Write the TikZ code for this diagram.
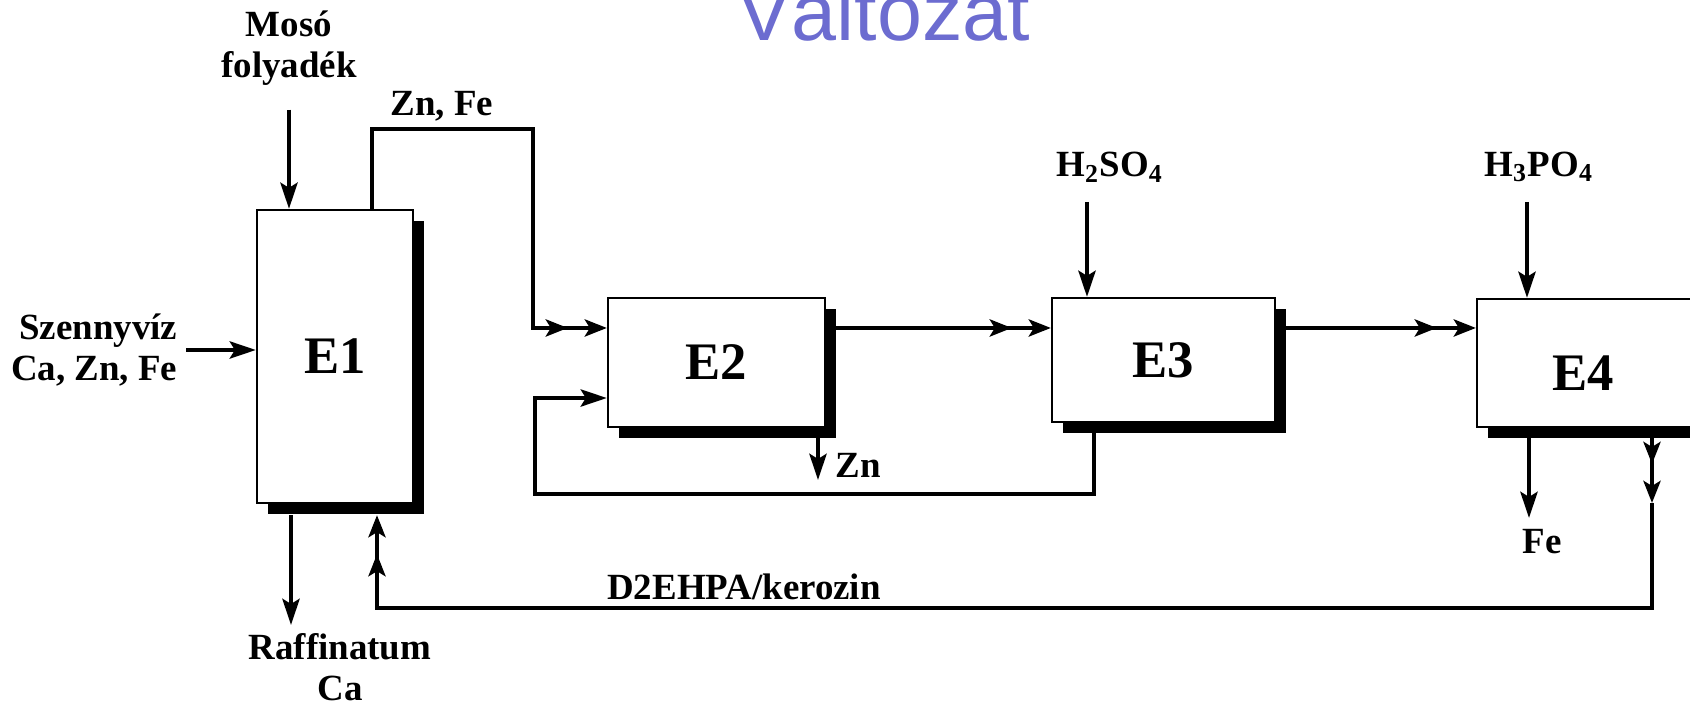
\documentclass[tikz,border=0pt]{standalone}
\usepackage{fontspec}
\setmainfont{Liberation Serif}
\setsansfont{Liberation Sans}
\usetikzlibrary{arrows.meta,shadows}
\definecolor{variantBlue}{RGB}{108,108,208}

\begin{document}
\begin{tikzpicture}[x=.01cm,y=-.01cm,
      extractor/.style={draw, fill=white, line width=.6pt, rectangle,
        inner sep=0pt, font=\fontsize{15}{17}\selectfont\bfseries,
        general shadow={fill=black, shadow xshift=.11cm, shadow yshift=-.11cm}},
      tag/.style={font=\fontsize{10.5}{11.5}\selectfont\bfseries,
        inner sep=0pt, align=center},
      pipe/.style={line width=1.3pt, line join=miter},
      stream/.style={pipe, -{Stealth[length=.26cm,width=.17cm,inset=.05cm]}},
      twotip/.style={pipe, -{Stealth[length=.22cm,width=.17cm,inset=.05cm,
        sep=.17cm]Stealth[length=.22cm,width=.17cm,inset=.05cm]}}]
      \useasboundingbox (0,0) rectangle (1690,707);
      \clip (0,0) rectangle (1690,707);

      \node[font=\fontsize{23}{23}\selectfont\sffamily, text=variantBlue,
        anchor=base] (title) at (884,41) {Változat};

      % extractors
      \node[extractor, minimum width=1.56cm, minimum height=2.93cm]
        (e1) at (335,356.5) {E1};
      \node[extractor, minimum width=2.17cm, minimum height=1.29cm]
        (e2) at (716.5,362.5) {E2};
      \node[extractor, minimum width=2.23cm, minimum height=1.24cm]
        (e3) at (1163.5,360) {E3};
      \node[extractor, minimum width=2.18cm, minimum height=1.28cm]
        (e4) at (1586,363) {};
      \node[font=\fontsize{15}{17}\selectfont\bfseries] (e4name)
        at (1583,373) {E4};

      % labels
      \node[tag] (moso) at (289,48) {Mosó\\folyadék};
      \node[tag, align=right, anchor=east] (szenny) at (178,350)
        {Szennyvíz\\Ca, Zn, Fe};
      \node[tag] (znfe) at (442,106) {Zn, Fe};
      \node[tag] (raff) at (340,667) {Raffinatum\\Ca};
      \node[tag] (solvent) at (744,587) {D2EHPA/kerozin};
      \node[tag, anchor=west] (zn) at (835,465) {Zn};
      \node[tag] (h2so4) at (1110,167) {H\textsubscript{2}SO\textsubscript{4}};
      \node[tag] (h3po4) at (1539,167) {H\textsubscript{3}PO\textsubscript{4}};
      \node[tag] (fe) at (1542,542) {Fe};

      % helper points
      \coordinate (e1base) at ([yshift=-.11cm]e1.south);
      \coordinate (e2feed) at ([yshift=.345cm]e2.west);
      \coordinate (e2recycle) at ([yshift=-.355cm]e2.west);
      \coordinate (znfeRise) at (372,129);
      \coordinate (znfeDrop) at (533,129);
      \coordinate (loopLow) at (535,494);
      \coordinate (znOut) at (818,480);
      \coordinate (acidA) at (1087,202);
      \coordinate (acidB) at (1527,202);
      \coordinate (feOut) at (1529,518);
      \coordinate (solvMark) at (1652,503);
      \coordinate (solvDown) at (1652,608);
      \coordinate (solvUp) at (377,608);
      \coordinate (raffOut) at (291,625);

      % streams
      \draw[stream] ([yshift=-.24cm]moso.south) -- (moso.south |- e1.north);
      \draw[stream] ([xshift=.08cm]szenny.east) -- (szenny.east -| e1.west);
      \draw[twotip] (znfeRise |- e1.north) -- (znfeRise) -- (znfeDrop)
        |- (e2feed);
      \draw[twotip] (e2feed -| e2.east) -- (e2feed -| e3.west);
      \draw[twotip] (e2feed -| e3.east) -- (e2feed -| e4.west);
      \draw[stream] ([xshift=-.695cm]e3.south) |- (loopLow) |- (e2recycle);
      \draw[stream] (znOut |- e2.south) -- (znOut);
      \draw[stream] (acidA) -- (acidA |- e3.north);
      \draw[stream] (acidB) -- (acidB |- e4.north);
      \draw[stream] (feOut |- e4.south) -- (feOut);
      \draw[twotip] (solvMark |- e4.south) -- (solvMark);
      \draw[twotip] (solvMark) -- (solvDown) -- (solvUp) -- (solvUp |- e1base);
      \draw[stream] (raffOut |- e1base) -- (raffOut);
    \end{tikzpicture}
\end{document}
